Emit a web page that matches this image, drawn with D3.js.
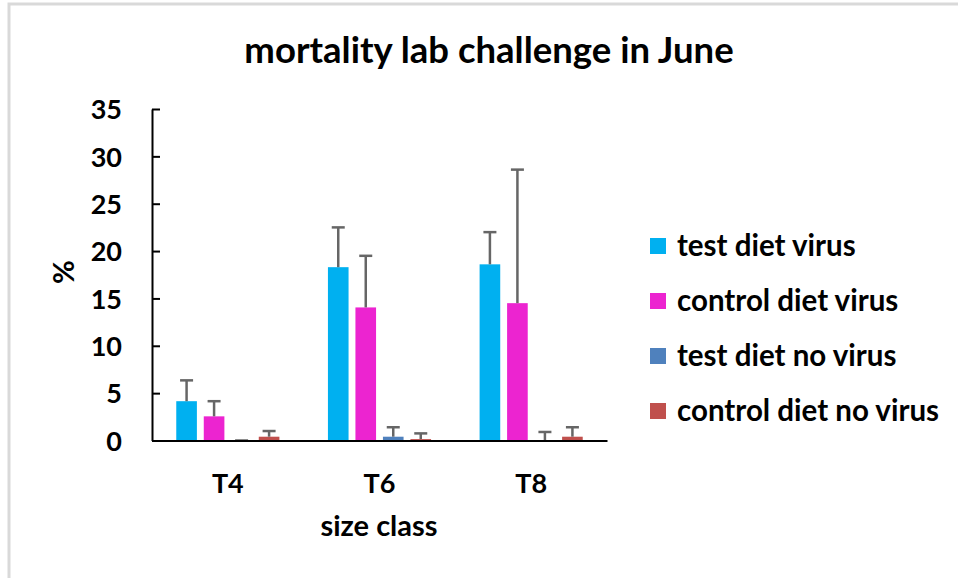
<!DOCTYPE html>
<html>
<head>
<meta charset="utf-8">
<script src="https://cdn.jsdelivr.net/npm/d3@7"></script>
<style>
  body { margin: 0; background: #fff; }
  text { font-family: Lato, "Open Sans", sans-serif; font-weight: bold; fill: #000; }
</style>
</head>
<body>
<div id="chart"></div>
<script>
// Data
let sizeClasses = ['T4', 'T6', 'T8']
let seriesNames = ['test diet virus', 'control diet virus', 'test diet no virus', 'control diet no virus']
let seriesColors = ['#00B0F0', '#EC24D0', '#4F81BD', '#C0504D']
let testVirus = [4.15, 18.3, 18.6]
let controlVirus = [2.55, 14.05, 14.5]
let testNoVirus = [0, 0.4, 0]
let controlNoVirus = [0.4, 0.15, 0.4]
let testVirusErr = [2.2, 4.2, 3.4]
let controlVirusErr = [1.6, 5.45, 14.1]
let testNoVirusErr = [0, 1.0, 0.9]
let controlNoVirusErr = [0.6, 0.6, 1.0]
let yTicks = [0, 5, 10, 15, 20, 25, 30, 35]

let values = [testVirus, controlVirus, testNoVirus, controlNoVirus]
let errors = [testVirusErr, controlVirusErr, testNoVirusErr, controlNoVirusErr]

// Plot constants
let width = 958
let height = 578
let plotLeft = 152, plotRight = 607, plotTop = 109, plotBottom = 440.5

let svg = d3.select('#chart')
  .append('svg')
  .attr('width', width)
  .attr('height', height)

// Light frame on top and left
svg.append('path')
  .attr('d', `M9,${height} L9,4 L${width},4`)
  .style('fill', 'none')
  .style('stroke', '#d9d9d9')
  .style('stroke-width', 3)

// Scales
let x = d3.scaleBand()
  .domain(sizeClasses)
  .range([plotLeft, plotRight])

let xInner = d3.scaleBand()
  .domain(d3.range(seriesNames.length))
  .range([x.bandwidth() * 0.16, x.bandwidth() * 0.84])
  .paddingInner(0.25)

let y = d3.scaleLinear()
  .domain([0, 35])
  .range([plotBottom, plotTop])

// Build rows for bars
let rows = []
seriesNames.forEach(function(name, i){
  sizeClasses.forEach(function(c, j){
    rows.push({series: i, cls: c, value: values[i][j], err: errors[i][j]})
  })
})

// Bars
svg.append('g')
  .selectAll('rect')
  .data(rows.filter(function(d){ return d.value > 0 }))
  .enter().append('rect')
  .attr('x', function(d){ return x(d.cls) + xInner(d.series) })
  .attr('y', function(d){ return y(d.value) })
  .attr('width', xInner.bandwidth())
  .attr('height', function(d){ return y(0) - y(d.value) })
  .style('fill', function(d){ return seriesColors[d.series] })

// Error bars (plus side only)
let errG = svg.append('g')
  .style('stroke', '#666666')
  .style('stroke-width', 2.5)

rows.forEach(function(d){
  let cx = x(d.cls) + xInner(d.series) + xInner.bandwidth() / 2
  let top = y(d.value + d.err)
  errG.append('line')
    .attr('x1', cx).attr('x2', cx)
    .attr('y1', y(d.value)).attr('y2', top)
  errG.append('line')
    .attr('x1', cx - 6.5).attr('x2', cx + 6.5)
    .attr('y1', top).attr('y2', top)
})

// Y axis
let yAxis = d3.axisLeft(y)
  .tickValues(yTicks)
  .tickSizeInner(-8)
  .tickSizeOuter(0)
  .tickPadding(30)

let yG = svg.append('g')
  .attr('transform', `translate(${plotLeft},0)`)
  .call(yAxis)
yG.select('.domain').style('stroke', '#000').style('stroke-width', 2)
yG.selectAll('.tick line').style('stroke', '#000').style('stroke-width', 2)
yG.selectAll('.tick text')
  .style('font-size', '27px')
  .style('font-family', 'Lato, sans-serif')
  .attr('dy', '0.36em')

// X axis
let xAxis = d3.axisBottom(x)
  .tickSize(0)
  .tickPadding(33)

let xG = svg.append('g')
  .attr('transform', `translate(0,${plotBottom})`)
  .call(xAxis)
xG.select('.domain').style('stroke', '#000').style('stroke-width', 2)
xG.selectAll('.tick text')
  .style('font-size', '27px')
  .style('font-family', 'Lato, sans-serif')

// Titles
svg.append('text')
  .attr('x', 489)
  .attr('y', 63)
  .attr('text-anchor', 'middle')
  .style('font-size', '36.5px')
  .text('mortality lab challenge in June')

svg.append('text')
  .attr('x', 379)
  .attr('y', 536)
  .attr('text-anchor', 'middle')
  .style('font-size', '29px')
  .text('size class')

svg.append('text')
  .attr('transform', 'translate(74,272) rotate(-90)')
  .attr('text-anchor', 'middle')
  .style('font-size', '29px')
  .text('%')

// Legend
let legend = svg.append('g')
  .selectAll('g')
  .data(seriesNames)
  .enter().append('g')
  .attr('transform', function(d, i){ return `translate(650,${246 + i * 55})` })

legend.append('rect')
  .attr('x', 0)
  .attr('y', -8)
  .attr('width', 16)
  .attr('height', 16)
  .style('fill', function(d, i){ return seriesColors[i] })

legend.append('text')
  .attr('x', 27)
  .attr('y', 10)
  .style('font-size', '29.5px')
  .text(function(d){ return d })
</script>
</body>
</html>
